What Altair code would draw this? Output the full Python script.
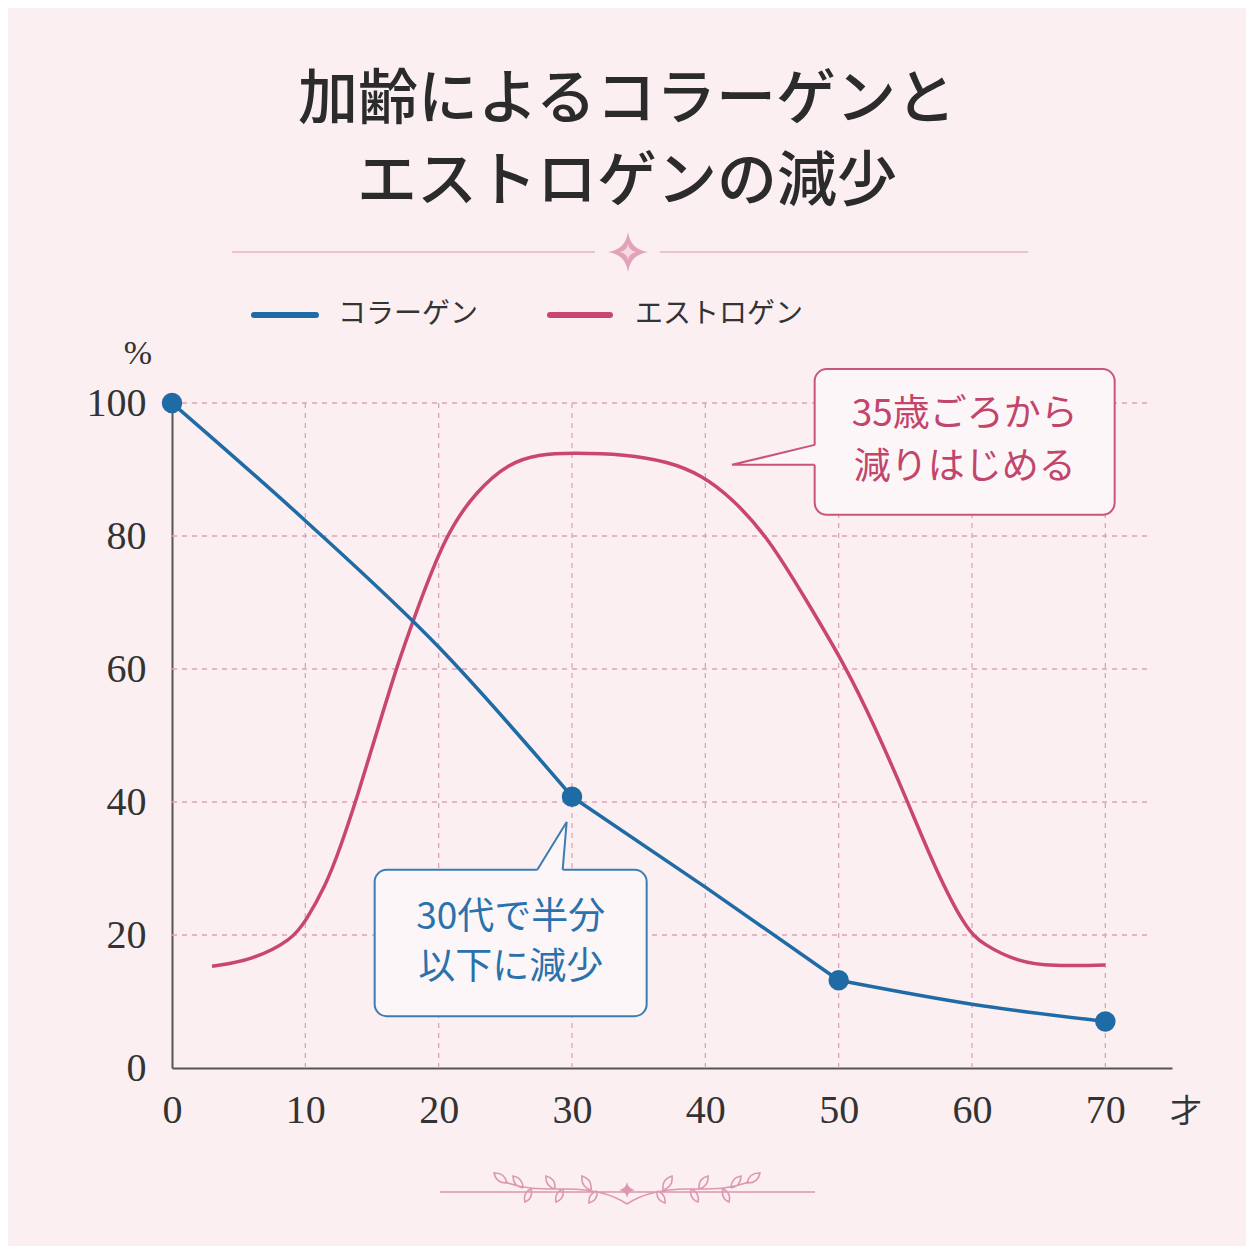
import altair as alt
import pandas as pd

# ---------------- data ----------------
collagen_age = [0, 10, 20, 30, 40, 50, 60, 70]
collagen_pct = [100, 82.3, 63.3, 40.8, 27.2, 13.2, 9.6, 7.0]
collagen_seg = [0, 0, 0, 0, 1, 1, 2, 2]   # smooth pieces between the markers
marker_ages = [0, 30, 50, 70]

estrogen_age = [3, 6, 9, 10, 11.5, 12.6, 13.9, 15.4, 16.9, 18.1, 20.5, 22.9, 25.2,
                27.5, 30, 34, 37.2, 39.7, 42, 44.7, 47.5, 50.5, 52.7, 55, 57.2,
                59.5, 60.8, 63.5, 66, 70]
estrogen_pct = [15.3, 16.2, 19.3, 22.0, 27.3, 33.0, 40.8, 50.8, 60.6, 67.4, 80.3, 86.9, 90.9,
                92.3, 92.5, 92.3, 91.2, 89.2, 85.7, 79.8, 70.6, 60.5, 51.4, 40.9, 30.1,
                21.0, 18.6, 15.9, 15.3, 15.5]

x_ticks = [0, 10, 20, 30, 40, 50, 60, 70]
y_ticks = [0, 20, 40, 60, 80, 100]
series_names = ["コラーゲン", "エストロゲン"]
title_lines = ["加齢によるコラーゲンと", "エストロゲンの減少"]
note_pink = ["35歳ごろから", "減りはじめる"]
note_blue = ["30代で半分", "以下に減少"]
y_unit = "%"
x_unit = "才"

# ---------------- styles ----------------
BG = "#fbeff2"
BOXFILL = "#fdf6f8"
BLUE = "#1f6ba6"
PINK = "#c9466f"
PINKBOX = "#c9557a"
BLUEBOX = "#3a7db3"
GRID = "#e0a3b7"
ORN = "#dd97ae"
JP = "Noto Sans CJK JP"
NUM = "Liberation Serif"

X0, Y0 = 172, 403  # page position of plot origin


def px(x):
    return x - X0


def py(y):
    return y - Y0


xs = alt.Scale(domain=[0, 75], nice=False)
ys = alt.Scale(domain=[0, 100], nice=False)
dummy = pd.DataFrame({"d": [0]})

# collagen pieces: each piece shares its end point with the next one
pieces = []
for s in sorted(set(collagen_seg)):
    idx = [i for i, v in enumerate(collagen_seg) if v == s]
    if s > 0:
        idx = [idx[0] - 1] + idx
    for i in idx:
        pieces.append({"age": collagen_age[i], "pct": collagen_pct[i], "seg": s})
coll_df = pd.DataFrame(pieces)
est_df = pd.DataFrame({"age": estrogen_age, "pct": estrogen_pct})
mk_df = pd.DataFrame({"age": marker_ages,
                      "pct": [collagen_pct[collagen_age.index(a)] for a in marker_ages]})

xaxis = alt.Axis(values=x_ticks, title=None, grid=False, ticks=False,
                 labelFont=NUM, labelFontSize=40, labelColor="#333333", labelPadding=22,
                 domainColor="#555555", domainWidth=2, labelFlush=False, labelOverlap=False)
yaxis = alt.Axis(values=y_ticks, title=None, grid=False, ticks=False,
                 labelFont=NUM, labelFontSize=40, labelColor="#333333", labelPadding=26,
                 domainColor="#555555", domainWidth=2, labelFlush=False, labelOverlap=False)


def X(f):
    return alt.X(f, scale=xs, axis=xaxis)


def Y(f):
    return alt.Y(f, scale=ys, axis=yaxis)


layers = []

# grid
layers.append(
    alt.Chart(pd.DataFrame({"v": y_ticks[1:], "a": [0] * 5, "b": [73.5] * 5})).mark_rule(
        color=GRID, strokeDash=[5, 5], strokeWidth=1.3
    ).encode(y=Y("v:Q"), x=X("a:Q"), x2="b:Q")
)
layers.append(
    alt.Chart(pd.DataFrame({"v": x_ticks[1:], "a": [0] * 7, "b": [100] * 7})).mark_rule(
        color=GRID, strokeDash=[5, 5], strokeWidth=1.3
    ).encode(x=X("v:Q"), y=Y("a:Q"), y2="b:Q")
)

# series
layers.append(
    alt.Chart(est_df).mark_line(color=PINK, strokeWidth=3.5, interpolate="basis").encode(
        x=X("age:Q"), y=Y("pct:Q"))
)
layers.append(
    alt.Chart(coll_df).mark_line(color=BLUE, strokeWidth=3.5, interpolate="monotone").encode(
        x=X("age:Q"), y=Y("pct:Q"), detail="seg:N")
)
layers.append(
    alt.Chart(mk_df).mark_circle(color=BLUE, size=420, opacity=1).encode(
        x=X("age:Q"), y=Y("pct:Q"))
)


def box(x1, x2, y1, y2, stroke):
    return alt.Chart(pd.DataFrame({"x1": [x1], "x2": [x2], "y1": [y1], "y2": [y2]})).mark_rect(
        fill=BOXFILL, stroke=stroke, strokeWidth=2, cornerRadius=12).encode(
        x=X("x1:Q"), x2="x2:Q", y=Y("y1:Q"), y2="y2:Q")


def tri_fill(xv, yv, y2v):
    return alt.Chart(pd.DataFrame({"x": xv, "y": yv, "y2": y2v})).mark_area(
        color=BOXFILL, opacity=1).encode(x=X("x:Q"), y=Y("y:Q"), y2="y2:Q")


def tri_edge(xv, yv, color):
    return alt.Chart(pd.DataFrame({"x": xv, "y": yv, "o": list(range(len(xv)))})).mark_line(
        color=color, strokeWidth=2).encode(x=X("x:Q"), y=Y("y:Q"), order=alt.Order("o:Q"))


def note(s, x, y, color, size):
    return alt.Chart(pd.DataFrame({"x": [x], "y": [y], "t": [s]})).mark_text(
        font=JP, fontSize=size, color=color, align="center", baseline="middle").encode(
        x=X("x:Q"), y=Y("y:Q"), text="t:N")


# pink callout
layers.append(box(48.2, 70.7, 105.1, 83.2, PINKBOX))
layers.append(tri_fill([42.0, 48.8], [90.7, 93.9], [90.7, 90.7]))
layers.append(tri_edge([48.2, 42.0, 48.2], [93.7, 90.7, 90.7], PINKBOX))
layers.append(note(note_pink[0], 59.45, 98.2, "#c2456b", 37))
layers.append(note(note_pink[1], 59.45, 90.2, "#c2456b", 37))

# blue callout
layers.append(box(15.2, 35.6, 29.8, 7.8, BLUEBOX))
layers.append(tri_fill([27.4, 29.3, 29.6], [29.8, 36.0, 37.0], [29.2, 29.2, 37.0]))
layers.append(tri_edge([27.4, 29.6, 29.3], [29.8, 37.0, 29.8], BLUEBOX))
layers.append(note(note_blue[0], 25.4, 22.6, "#2a72ad", 37))
layers.append(note(note_blue[1], 25.4, 15.0, "#2a72ad", 37))


# ---------------- decorations (pixel space) ----------------
def txt(s, x, y, size, color="#2b2b2b", font=JP, weight="normal", align="center"):
    return alt.Chart(dummy).mark_text(font=font, fontSize=size, color=color, fontWeight=weight,
                                      align=align, baseline="middle").encode(
        x=alt.value(px(x)), y=alt.value(py(y)), text=alt.value(s))


def hrule(x1, x2, y, color, width, cap="butt"):
    return alt.Chart(dummy).mark_rule(color=color, strokeWidth=width, strokeCap=cap).encode(
        x=alt.value(px(x1)), x2=alt.value(px(x2)), y=alt.value(py(y)))


def star(r, k):
    return (f"M0,{-r} Q{k},{-k} {r},0 Q{k},{k} 0,{r} Q{-k},{k} {-r},0 Q{-k},{-k} 0,{-r} Z")


def symbol(path, x, y, fill=None, stroke=None, sw=1.5):
    kw = dict(shape=path, size=4, opacity=1)
    if fill:
        mk = alt.Chart(dummy).mark_point(filled=True, fill=fill, strokeWidth=0, **kw)
    else:
        mk = alt.Chart(dummy).mark_point(filled=False, stroke=stroke, strokeWidth=sw, **kw)
    return mk.encode(x=alt.value(px(x)), y=alt.value(py(y)))


layers.append(txt(title_lines[0], 627, 101, 60, weight=500))
layers.append(txt(title_lines[1], 627, 183, 60, weight=500))

# top divider
layers.append(hrule(232, 595, 252, "#e7b3c4", 1.6))
layers.append(hrule(660, 1028, 252, "#e7b3c4", 1.6))
layers.append(symbol(star(20, 2.5), 628, 252, fill="#e2a2b8"))
layers.append(symbol(star(8, 1.2), 628, 252, fill="#f6dbe4"))

# legend
layers.append(hrule(254, 316, 315, BLUE, 6, "round"))
layers.append(txt(series_names[0], 338, 315, 28, color="#333333", align="left"))
layers.append(hrule(550, 610, 315, PINK, 6, "round"))
layers.append(txt(series_names[1], 635, 315, 28, color="#333333", align="left"))

# axis units
layers.append(txt(y_unit, 138, 354, 34, color="#333333", font=NUM))
layers.append(txt(x_unit, 1186, 1112, 32, color="#333333"))


# bottom ornament (vine with leaves)
def leaf(bx, by, tx, ty, w=0.42):
    mx, my = (bx + tx) / 2, (by + ty) / 2
    dx, dy = tx - bx, ty - by
    c1 = (mx - dy * w, my + dx * w)
    c2 = (mx + dy * w, my - dx * w)
    return (f"M{bx:.1f},{by:.1f} Q{c1[0]:.1f},{c1[1]:.1f} {tx:.1f},{ty:.1f} "
            f"Q{c2[0]:.1f},{c2[1]:.1f} {bx:.1f},{by:.1f} ")


vine = "M-187,0 L188,0 "
vine += "M0,12 C-15,2 -35,-3 -60,-3 C-85,-3 -100,-2 -122,-10 "
vine += "M0,12 C15,2 35,-3 60,-3 C85,-3 100,-2 122,-10 "
leaves_l = [(-36, -2, -45, -16), (-30, -1, -38, 11), (-72, -3, -81, -16), (-64, -3, -71, 10),
            (-104, -4, -114, -16), (-96, -3, -102, 10), (-120, -9, -133, -19)]
for bx, by, tx, ty in leaves_l:
    vine += leaf(bx, by, tx, ty)
    vine += leaf(-bx, by, -tx, ty)
layers.append(symbol(vine, 627, 1192, stroke=ORN, sw=1.6))
layers.append(symbol(star(8, 1.2), 627, 1190, fill=ORN))

chart = alt.layer(*layers).properties(
    width=1000, height=665,
    padding={"left": 164, "top": 395, "right": 74, "bottom": 178},
    autosize=alt.AutoSizeParams(type="none"),
    background=BG,
).configure_view(stroke=None)

chart.save("out.html", embed_options={"renderer": "svg", "actions": False})
